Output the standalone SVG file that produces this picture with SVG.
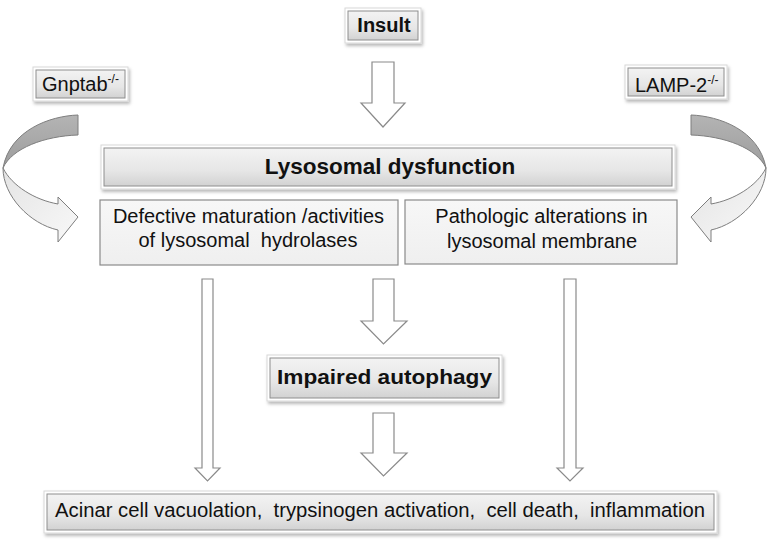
<svg xmlns="http://www.w3.org/2000/svg" width="769" height="543" viewBox="0 0 769 543">
<defs>
<linearGradient id="boxGrad" x1="0" y1="0" x2="0" y2="1">
<stop offset="0" stop-color="#f3f3f3"/>
<stop offset="0.6" stop-color="#e6e6e6"/>
<stop offset="1" stop-color="#d2d2d2"/>
</linearGradient>
<linearGradient id="plainGrad" x1="0" y1="0" x2="0" y2="1">
<stop offset="0" stop-color="#f7f7f7"/>
<stop offset="1" stop-color="#efefef"/>
</linearGradient>
<linearGradient id="darkGrad" x1="0" y1="0" x2="0" y2="1">
<stop offset="0" stop-color="#b4b4b4"/>
<stop offset="1" stop-color="#9c9c9c"/>
</linearGradient>
<linearGradient id="lightGrad" x1="0" y1="0" x2="1" y2="1">
<stop offset="0" stop-color="#e4e4e4"/>
<stop offset="1" stop-color="#f8f8f8"/>
</linearGradient>
<filter id="shadow" x="-10%" y="-20%" width="120%" height="150%">
<feDropShadow dx="1.5" dy="2.5" stdDeviation="1.5" flood-color="#000" flood-opacity="0.28"/>
</filter>
</defs>
<style>
.outer{fill:#fff;stroke:#d8d8d8;stroke-width:1;filter:url(#shadow)}
.inner{fill:url(#boxGrad);stroke:#8e8e8e;stroke-width:1}
.plain{fill:url(#plainGrad);stroke:#8a8a8a;stroke-width:1.2}
.blk{fill:#fff;stroke:#8a8a8a;stroke-width:1.2;stroke-linejoin:miter}
.cdark{fill:url(#darkGrad);stroke:#7e7e7e;stroke-width:1}
.clight{fill:url(#lightGrad);stroke:#7e7e7e;stroke-width:1}
text{font-family:"Liberation Sans",Arial,sans-serif;fill:#111}
.b{font-weight:bold}
</style>
<rect width="769" height="543" fill="#fff"/>

<g id="connectors">
<path class="blk" d="M372,62 L394,62 L394,103 L405,103 L383,127 L361,103 L372,103 Z"/>
<path class="blk" d="M373,279 L394,279 L394,321 L407,321 L383.5,344 L361,321 L373,321 Z"/>
<path class="blk" d="M373,413 L394,413 L394,453 L407,453 L383.5,476 L361,453 L373,453 Z"/>
<path class="blk" d="M202,279 L213,279 L213,468 L220,468 L207.5,481 L195,468 L202,468 Z"/>
<path class="blk" d="M564,279 L576,279 L576,468 L583,468 L570,481 L557,468 L564,468 Z"/>
<g id="curveLeft">
<path class="cdark" d="M78,115 C50,116 10,130 3,168 C12,148 45,136 78,135 Z"/>
<path class="clight" d="M3,168 C3,196 30,224 58,230 L58,242 L78,217 L58,197 L58,204 C35,200 12,186 3,168 Z"/>
</g>
<g id="curveRight">
<path class="cdark" d="M691,115 C719,116 759,130 766,168 C757,148 724,136 691,135 Z"/>
<path class="clight" d="M766,168 C766,196 739,224 711,230 L711,242 L691,217 L711,197 L711,204 C734,200 757,186 766,168 Z"/>
</g>
</g>

<g id="insult">
<rect class="outer" x="345" y="8" width="76" height="35"/>
<rect class="inner" x="348" y="11" width="70" height="29"/>
<text class="b" x="384" y="32" font-size="20" text-anchor="middle">Insult</text>
</g>

<g id="gnptab">
<rect class="outer" x="33" y="67" width="95" height="34"/>
<rect class="inner" x="36" y="70" width="89" height="28"/>
<text x="42" y="91" font-size="20">Gnptab<tspan font-size="12" dy="-8">-/-</tspan></text>
</g>

<g id="lamp2">
<rect class="outer" x="625" y="65" width="102" height="34"/>
<rect class="inner" x="628" y="68" width="96" height="28"/>
<text x="635" y="92" font-size="20">LAMP-2<tspan font-size="12" dy="-8">-/-</tspan></text>
</g>

<g id="lysosomal">
<rect class="outer" x="101" y="145" width="574" height="44"/>
<rect class="inner" x="104" y="148" width="568" height="38"/>
<text class="b" x="390" y="174" font-size="22.5" text-anchor="middle">Lysosomal dysfunction</text>
</g>

<g id="defective">
<rect class="plain" x="100" y="200" width="298" height="65"/>
<text x="248.5" y="223" font-size="20" text-anchor="middle">Defective maturation /activities</text>
<text x="248" y="247" font-size="20" text-anchor="middle" xml:space="preserve">of lysosomal  hydrolases</text>
</g>

<g id="pathologic">
<rect class="plain" x="405" y="200" width="272" height="64"/>
<text x="541.5" y="223" font-size="20" text-anchor="middle">Pathologic alterations in</text>
<text x="542" y="248" font-size="20" text-anchor="middle">lysosomal membrane</text>
</g>

<g id="impaired">
<rect class="outer" x="267" y="355" width="235" height="46"/>
<rect class="inner" x="270" y="358" width="229" height="40"/>
<text class="b" x="277" y="384" font-size="21" textLength="215" lengthAdjust="spacingAndGlyphs">Impaired autophagy</text>
</g>

<g id="outcomes">
<rect class="outer" x="44" y="491" width="673" height="42"/>
<rect class="inner" x="47" y="494" width="667" height="36"/>
<text x="55" y="517" font-size="19.5" textLength="650" lengthAdjust="spacingAndGlyphs" xml:space="preserve">Acinar cell vacuolation,  trypsinogen activation,  cell death,  inflammation</text>
</g>
</svg>
